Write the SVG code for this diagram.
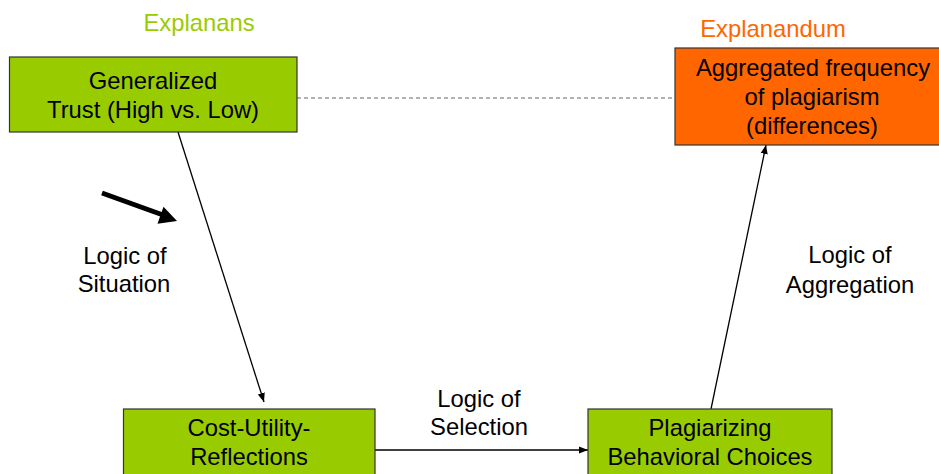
<svg xmlns="http://www.w3.org/2000/svg" width="939" height="474" viewBox="0 0 939 474">
<style>
text{font-family:"Liberation Sans",Arial,sans-serif;font-size:23.8px;fill:#000;text-anchor:middle}
.box{stroke:#333;stroke-width:1.2}
.green{fill:#99cc00}
.orange{fill:#ff6600}
.conn{stroke:#000;stroke-width:1.3;fill:none}
</style>
<defs>
<marker id="ah" viewBox="0 0 10 10" refX="10" refY="5" markerWidth="9" markerHeight="9" markerUnits="userSpaceOnUse" orient="auto">
<path d="M0,1 L10,5 L0,9 Z" fill="#000"/>
</marker>
</defs>
<rect width="939" height="474" fill="#fff"/>
<text x="199" y="31" style="fill:#99cc00">Explanans</text>
<text x="773" y="37" style="fill:#ff6600">Explanandum</text>
<g id="connectors">
<line x1="297" y1="98" x2="675" y2="98" stroke="#666" stroke-width="1.2" stroke-dasharray="4,3"/>
<line class="conn" x1="178" y1="132" x2="264" y2="402" marker-end="url(#ah)"/>
<line class="conn" x1="375" y1="450" x2="588" y2="450" marker-end="url(#ah)"/>
<line class="conn" x1="711" y1="409" x2="766" y2="145" marker-end="url(#ah)"/>
<line x1="102" y1="193" x2="163" y2="215" stroke="#000" stroke-width="5"/>
<polygon points="177,221 157.5,223.7 163.5,206.7" fill="#000"/>
</g>
<g id="trust">
<rect class="box green" x="9.5" y="57" width="287.5" height="75"/>
<text x="153" y="89">Generalized</text>
<text x="153" y="118">Trust (High vs. Low)</text>
</g>
<g id="frequency">
<rect class="box orange" x="675" y="48" width="266" height="97"/>
<text x="813" y="76">Aggregated frequency</text>
<text x="812" y="105">of plagiarism</text>
<text x="812" y="134">(differences)</text>
</g>
<g id="costutility">
<rect class="box green" x="123.5" y="409" width="251.5" height="70"/>
<text x="249" y="436">Cost-Utility-</text>
<text x="249" y="465">Reflections</text>
</g>
<g id="plagiarizing">
<rect class="box green" x="588" y="409" width="244" height="70"/>
<text x="710" y="436">Plagiarizing</text>
<text x="710" y="465">Behavioral Choices</text>
</g>
<g id="labels">
<text x="125" y="264">Logic of</text>
<text x="124" y="292">Situation</text>
<text x="479" y="407">Logic of</text>
<text x="479" y="435">Selection</text>
<text x="850" y="263">Logic of</text>
<text x="850" y="293">Aggregation</text>
</g>
</svg>
